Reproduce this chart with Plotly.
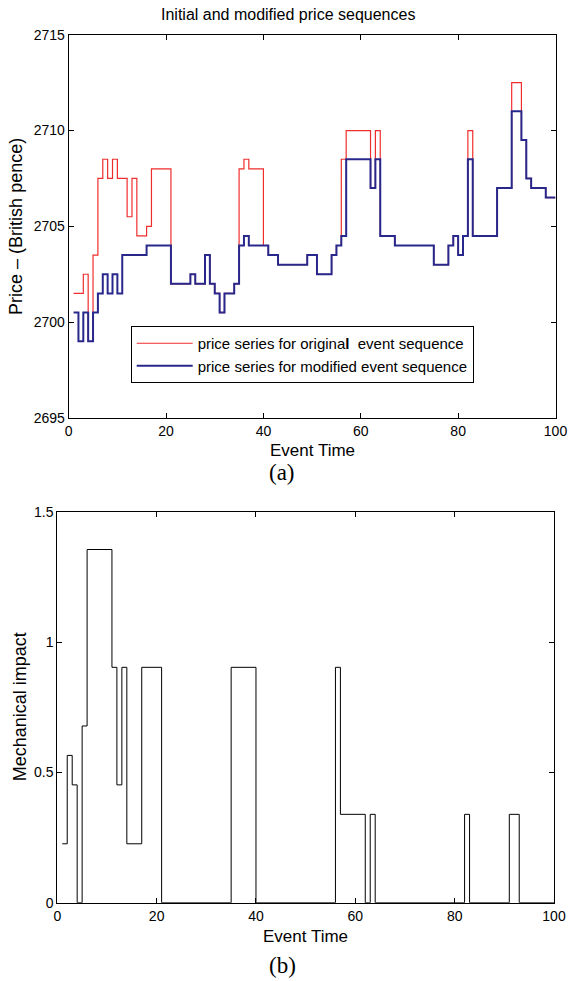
import plotly.graph_objects as go

# ---- data ----
# price series for original event sequence (step change points)
red_t = [1, 3, 4, 5, 6, 7, 8, 9, 10, 12, 13, 14, 16, 17, 21, 25, 26, 28, 29, 30,
         31, 32, 34, 35, 36, 37, 40, 41, 43, 49, 51, 54, 55, 56, 57, 62, 63, 64, 67, 75,
         78, 79, 80, 81, 82, 83, 88, 91, 93, 94, 95, 98, 100]
red_p = [2701.5, 2702.5, 2699, 2703.5, 2707.5, 2708.5, 2707.5, 2708.5, 2707.5, 2705.5,
         2707.5, 2704.5, 2705, 2708, 2702, 2702.5, 2702, 2703.5, 2702, 2701.5,
         2700.5, 2701.5, 2702, 2708, 2708.5, 2708, 2704, 2703.5, 2703, 2703.5,
         2702.5, 2703.5, 2704, 2708.5, 2710, 2707, 2710, 2704.5, 2704, 2703,
         2704, 2704.5, 2703.5, 2704.5, 2710, 2704.5, 2707, 2712.5, 2709.5, 2707.5,
         2707, 2706.5, 2706.5]

# price series for modified event sequence
blue_t = [1, 2, 3, 4, 5, 6, 7, 8, 9, 10, 11, 16, 21, 25, 26, 28, 29, 30, 31, 32,
          34, 35, 36, 37, 41, 43, 49, 51, 54, 55, 56, 57, 62, 63, 64, 67, 75, 78, 79, 80,
          81, 82, 83, 88, 91, 93, 94, 95, 98, 100]
blue_p = [2700.5, 2699, 2700.5, 2699, 2700.5, 2701.5, 2702.5, 2701.5, 2702.5, 2701.5,
          2703.5, 2704, 2702, 2702.5, 2702, 2703.5, 2702, 2701.5, 2700.5, 2701.5,
          2702, 2704, 2704.5, 2704, 2703.5, 2703, 2703.5, 2702.5, 2703.5, 2704,
          2704.5, 2708.5, 2707, 2708.5, 2704.5, 2704, 2703, 2704, 2704.5, 2703.5,
          2704.5, 2708.5, 2704.5, 2707, 2711, 2709.5, 2707.5, 2707, 2706.5, 2706.5]

# mechanical impact
mech_t = [1, 2, 3, 4, 5, 6, 11, 12, 13, 14, 17, 21, 35, 40, 56, 57, 62, 63, 64, 82,
          83, 91, 93, 100]
mech_v = [0.226, 0.565, 0.452, 0, 0.678, 1.355, 0.903, 0.452, 0.903, 0.226,
          0.903, 0, 0.903, 0, 0.903, 0.339, 0, 0.339, 0, 0.339,
          0, 0.339, 0, 0]

x_ticks = [0, 20, 40, 60, 80, 100]
price_ticks = [2695, 2700, 2705, 2710, 2715]
mech_ticks = [0, 0.5, 1, 1.5]
mech_tick_text = ["0", "0.5", "1", "1.5"]

W, H = 568, 981
SANS = "Liberation Sans, Arial, Helvetica, sans-serif"
SERIF = "Liberation Serif, Times New Roman, serif"


def px(x):  # page x -> paper fraction
    return x / W


def py(y):  # page y -> paper fraction
    return 1 - y / H


fig = go.Figure()
fig.add_trace(go.Scatter(
    x=red_t, y=red_p, mode="lines", line=dict(shape="hv", color="rgb(240,45,45)", width=1.2),
    name="price series for origina<b>l</b>\u00a0 event sequence", xaxis="x", yaxis="y"))
fig.add_trace(go.Scatter(
    x=blue_t, y=blue_p, mode="lines", line=dict(shape="hv", color="rgb(40,40,140)", width=2),
    name="price series for modified event sequence", xaxis="x", yaxis="y"))
fig.add_trace(go.Scatter(
    x=mech_t, y=mech_v, mode="lines", line=dict(shape="hv", color="black", width=1),
    showlegend=False, xaxis="x2", yaxis="y2"))

axis_style = dict(showline=True, linecolor="black", linewidth=1, mirror="ticks",
                  ticks="inside", ticklen=5, tickcolor="black", tickwidth=1,
                  showgrid=False, zeroline=False, automargin=False,
                  ticklabeloverflow="allow",
                  tickfont=dict(family=SANS, size=14, color="black"))

fig.update_layout(
    width=W, height=H, margin=dict(l=0, r=0, t=0, b=0, autoexpand=False),
    paper_bgcolor="white", plot_bgcolor="white",
    xaxis=dict(domain=[px(68.7), px(555.5)], range=[0, 100], tickvals=x_ticks,
               anchor="y", **axis_style),
    yaxis=dict(domain=[py(418), py(34.7)], range=[2695, 2715], tickvals=price_ticks,
               anchor="x", **axis_style),
    xaxis2=dict(domain=[px(57.3), px(554)], range=[0, 100], tickvals=x_ticks,
                anchor="y2", **axis_style),
    yaxis2=dict(domain=[py(902.7), py(511.7)], range=[0, 1.5], tickvals=mech_ticks,
                ticktext=mech_tick_text, anchor="x2", **axis_style),
    legend=dict(x=px(130.7), y=py(326), xanchor="left", yanchor="top",
                bgcolor="white", bordercolor="black", borderwidth=1, itemwidth=56,
                font=dict(family=SANS, size=15, color="black")),
    showlegend=True,
)


def ann(text, x, y, size, family=SANS, angle=0):
    fig.add_annotation(text=text, x=px(x), y=py(y), xref="paper", yref="paper",
                       showarrow=False, xanchor="center", yanchor="middle",
                       textangle=angle, font=dict(family=family, size=size, color="black"))


ann("Initial and modified price sequences", 287.5, 15, 16)
ann("Price – (British pence)", 16.5, 226.4, 18, angle=-90)
ann("Event Time", 312.5, 450, 17)
ann("(a)", 282, 472, 23, family=SERIF)
ann("Mechanical impact", 20, 707.2, 18, angle=-90)
ann("Event Time", 305.8, 936, 17)
ann("(b)", 282.5, 965, 23, family=SERIF)

fig.write_html("out.html", config={"displayModeBar": False},
               post_script="document.body.style.margin='0';document.body.style.overflow='hidden';")
